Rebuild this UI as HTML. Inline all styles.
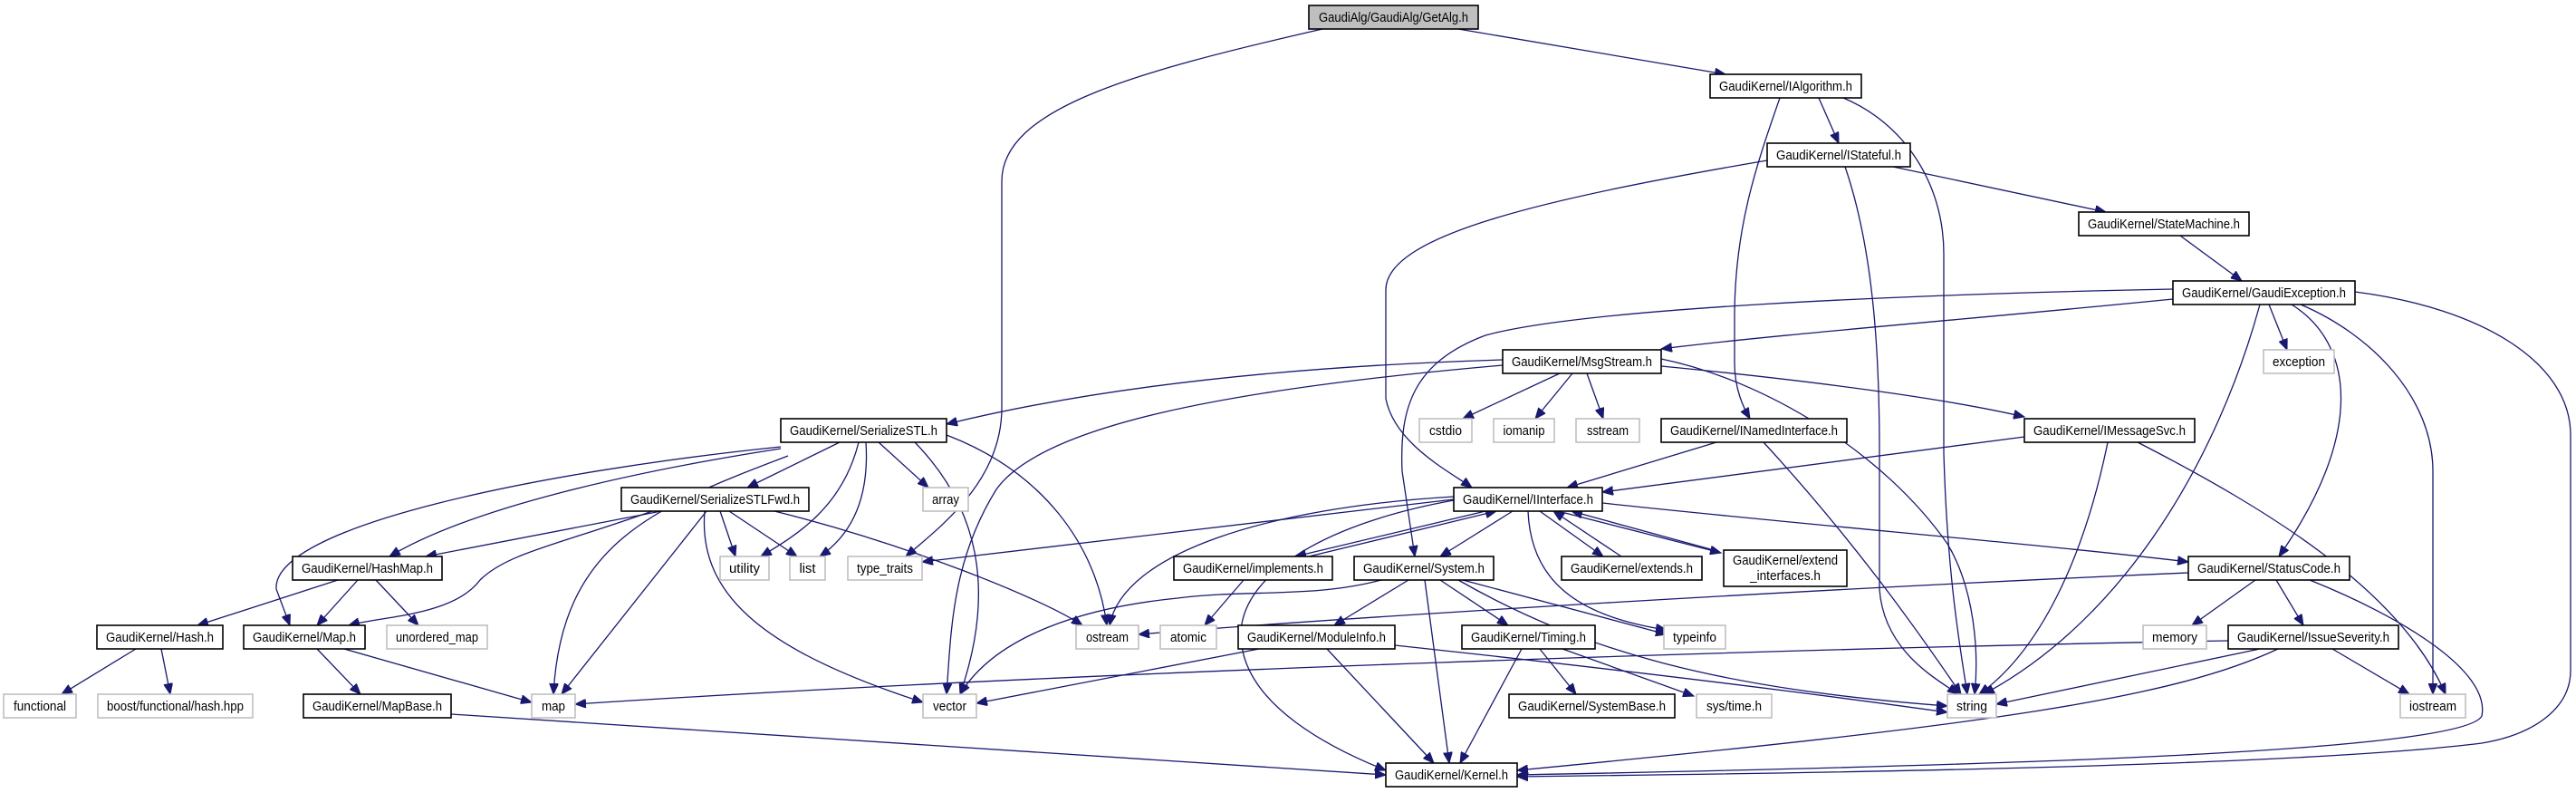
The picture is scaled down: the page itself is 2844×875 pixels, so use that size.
<!DOCTYPE html>
<html><head><meta charset="utf-8"><style>
html,body{margin:0;padding:0;background:#fff;}
svg{display:block;}
text{font-family:"Liberation Sans",sans-serif;font-size:15px;fill:#000;}
.e{fill:none;stroke:#191970;stroke-width:1.3;marker-end:url(#a);}
.n{fill:#fff;stroke:#000;stroke-width:1.6;}
.g{fill:#fff;stroke:#bfbfbf;stroke-width:1.6;}
</style></head><body>
<svg width="2844" height="875" viewBox="0 0 2844 875" xmlns="http://www.w3.org/2000/svg">
<defs><marker id="a" markerUnits="userSpaceOnUse" markerWidth="14" markerHeight="10" refX="12" refY="5" orient="auto"><path d="M0,0 L12,5 L0,10 z" fill="#191970" stroke="#191970"/></marker></defs>
<g>
<path class="e" d="M1610 32 L1905 82"/>
<path class="e" d="M1460 32 C1250 80 1106 120 1106 200 L1106 450 C1106 530 1040 580 1000 614"/>
<path class="e" d="M2008 108 L2030 158"/>
<path class="e" d="M1965 108 C1940 180 1915 250 1915 350 L1915 400 C1915 430 1925 450 1932 462"/>
<path class="e" d="M2035 108 C2100 135 2146 200 2146 280 L2146 500 C2150 640 2165 720 2172 766"/>
<path class="e" d="M1951 177 C1700 220 1530 260 1530 320 L1530 440 C1540 490 1600 520 1625 538"/>
<path class="e" d="M2037 184 C2070 280 2075 400 2075 500 L2075 650 C2080 720 2140 750 2162 766"/>
<path class="e" d="M2090 184 L2325 234"/>
<path class="e" d="M2407 260 L2475 310"/>
<path class="e" d="M2399 330 C2200 350 1950 370 1834 385"/>
<path class="e" d="M2399 319 C2100 325 1750 340 1640 370 C1560 400 1545 450 1548 520 L1562 614"/>
<path class="e" d="M2505 336 L2525 386"/>
<path class="e" d="M2495 336 C2450 500 2350 680 2190 766"/>
<path class="e" d="M2530 336 C2600 380 2610 480 2516 614"/>
<path class="e" d="M2540 336 C2620 370 2686 440 2686 520 L2686 766"/>
<path class="e" d="M2600 322 C2740 340 2838 400 2838 480 L2838 740 C2838 780 2800 810 2740 820 C2500 850 1800 855 1675 857"/>
<path class="e" d="M1659 397 C1400 405 1200 430 1045 468"/>
<path class="e" d="M1722 412 L1615 462"/>
<path class="e" d="M1736 412 L1695 462"/>
<path class="e" d="M1752 412 L1770 462"/>
<path class="e" d="M1834 404 C2000 420 2150 440 2235 460"/>
<path class="e" d="M1834 396 C1950 420 2080 500 2150 600 C2180 650 2185 720 2180 766"/>
<path class="e" d="M1659 403 C1350 430 1150 470 1100 540 C1050 620 1050 700 1045 766"/>
<path class="e" d="M927 488 L825 538"/>
<path class="e" d="M862 495 C700 520 520 560 430 614"/>
<path class="e" d="M862 493 C600 520 300 580 305 650 L320 690"/>
<path class="e" d="M870 503 C720 560 620 600 611 766"/>
<path class="e" d="M948 488 C930 560 880 590 840 614"/>
<path class="e" d="M956 488 C960 550 940 590 905 614"/>
<path class="e" d="M970 488 L1025 538"/>
<path class="e" d="M1045 480 C1150 520 1210 600 1222 690"/>
<path class="e" d="M1010 488 C1080 560 1100 650 1060 766"/>
<path class="e" d="M730 564 L470 614"/>
<path class="e" d="M720 564 C620 600 560 610 530 640 C500 680 420 680 385 690"/>
<path class="e" d="M780 564 L620 766"/>
<path class="e" d="M795 564 L812 614"/>
<path class="e" d="M805 564 L880 614"/>
<path class="e" d="M778 564 C770 660 850 720 1019 775"/>
<path class="e" d="M855 564 C1000 600 1150 660 1195 690"/>
<path class="e" d="M1640 564 L1430 614"/>
<path class="e" d="M1445 614 L1652 564"/>
<path class="e" d="M1670 564 L1590 614"/>
<path class="e" d="M1700 564 L1770 614"/>
<path class="e" d="M1790 614 L1715 564"/>
<path class="e" d="M1720 564 L1900 610"/>
<path class="e" d="M1892 607 L1735 564"/>
<path class="e" d="M1769 555 C2000 580 2250 600 2416 620"/>
<path class="e" d="M1605 551 L1018 620"/>
<path class="e" d="M1605 548 C1400 560 1240 610 1225 690"/>
<path class="e" d="M1605 552 C1450 580 1370 640 1370 700 C1370 780 1480 830 1530 850"/>
<path class="e" d="M1687 564 C1690 640 1740 680 1840 695"/>
<path class="e" d="M1373 640 L1330 690"/>
<path class="e" d="M1525 640 C1450 660 1380 650 1300 660 C1200 670 1100 700 1060 766"/>
<path class="e" d="M1555 640 L1473 690"/>
<path class="e" d="M1590 640 L1665 690"/>
<path class="e" d="M1573 640 L1600 842"/>
<path class="e" d="M1615 640 L1840 700"/>
<path class="e" d="M1610 640 C1750 720 1900 760 2150 779"/>
<path class="e" d="M2416 632 C2000 650 1500 680 1257 700"/>
<path class="e" d="M2490 640 L2420 690"/>
<path class="e" d="M2513 640 L2543 690"/>
<path class="e" d="M2550 640 C2650 680 2750 740 2740 790 C2720 830 2200 845 1675 855"/>
<path class="e" d="M2460 707 C2000 715 1200 740 635 777"/>
<path class="e" d="M2495 716 L2204 777"/>
<path class="e" d="M2515 716 C2400 770 2200 800 1675 850"/>
<path class="e" d="M2575 716 L2660 766"/>
<path class="e" d="M150 716 L68 766"/>
<path class="e" d="M178 716 L188 766"/>
<path class="e" d="M373 640 L218 690"/>
<path class="e" d="M395 640 L350 690"/>
<path class="e" d="M415 640 L462 690"/>
<path class="e" d="M350 716 L398 766"/>
<path class="e" d="M380 716 L587 775"/>
<path class="e" d="M498 788 L1530 855"/>
<path class="e" d="M1390 716 L1078 776"/>
<path class="e" d="M1465 716 L1583 842"/>
<path class="e" d="M1540 712 C1800 740 2000 765 2150 786"/>
<path class="e" d="M1700 716 L1740 766"/>
<path class="e" d="M1725 716 L1870 768"/>
<path class="e" d="M1680 716 L1612 842"/>
<path class="e" d="M1895 488 L1730 538"/>
<path class="e" d="M1947 488 C2050 600 2120 700 2165 766"/>
<path class="e" d="M2235 482 L1769 543"/>
<path class="e" d="M2327 488 C2300 620 2250 720 2185 766"/>
<path class="e" d="M2360 488 C2500 560 2650 650 2700 766"/>
</g>
<g text-anchor="middle">
<rect x="1445" y="6" width="187" height="26" fill="#bfbfbf" stroke="#000" stroke-width="1.6"/><text x="1538.5" y="24" textLength="165" lengthAdjust="spacingAndGlyphs">GaudiAlg/GaudiAlg/GetAlg.h</text>
<rect class="n" x="1888" y="82" width="167" height="26"/><text x="1971.5" y="100" textLength="147" lengthAdjust="spacingAndGlyphs">GaudiKernel/IAlgorithm.h</text>
<rect class="n" x="1951" y="158" width="158" height="26"/><text x="2030" y="176" textLength="138" lengthAdjust="spacingAndGlyphs">GaudiKernel/IStateful.h</text>
<rect class="n" x="2295" y="234" width="188" height="26"/><text x="2389" y="252" textLength="168" lengthAdjust="spacingAndGlyphs">GaudiKernel/StateMachine.h</text>
<rect class="n" x="2399" y="310" width="201" height="26"/><text x="2499.5" y="328" textLength="181" lengthAdjust="spacingAndGlyphs">GaudiKernel/GaudiException.h</text>
<rect class="n" x="1659" y="386" width="175" height="26"/><text x="1746.5" y="404" textLength="155" lengthAdjust="spacingAndGlyphs">GaudiKernel/MsgStream.h</text>
<rect class="g" x="2499" y="386" width="78" height="26"/><text x="2538" y="404" textLength="58" lengthAdjust="spacingAndGlyphs">exception</text>
<rect class="n" x="862" y="462" width="183" height="26"/><text x="953.5" y="480" textLength="163" lengthAdjust="spacingAndGlyphs">GaudiKernel/SerializeSTL.h</text>
<rect class="g" x="1567" y="462" width="58" height="26"/><text x="1596" y="480" textLength="36" lengthAdjust="spacingAndGlyphs">cstdio</text>
<rect class="g" x="1649" y="462" width="67" height="26"/><text x="1682.5" y="480" textLength="46" lengthAdjust="spacingAndGlyphs">iomanip</text>
<rect class="g" x="1740" y="462" width="70" height="26"/><text x="1775" y="480" textLength="46" lengthAdjust="spacingAndGlyphs">sstream</text>
<rect class="n" x="1834" y="462" width="205" height="26"/><text x="1936.5" y="480" textLength="185" lengthAdjust="spacingAndGlyphs">GaudiKernel/INamedInterface.h</text>
<rect class="n" x="2235" y="462" width="188" height="26"/><text x="2329" y="480" textLength="168" lengthAdjust="spacingAndGlyphs">GaudiKernel/IMessageSvc.h</text>
<rect class="n" x="686" y="538" width="207" height="26"/><text x="789.5" y="556" textLength="187" lengthAdjust="spacingAndGlyphs">GaudiKernel/SerializeSTLFwd.h</text>
<rect class="g" x="1019" y="538" width="50" height="26"/><text x="1044" y="556" textLength="30" lengthAdjust="spacingAndGlyphs">array</text>
<rect class="n" x="1605" y="538" width="164" height="26"/><text x="1687" y="556" textLength="144" lengthAdjust="spacingAndGlyphs">GaudiKernel/IInterface.h</text>
<rect class="n" x="323" y="614" width="165" height="26"/><text x="405.5" y="632" textLength="145" lengthAdjust="spacingAndGlyphs">GaudiKernel/HashMap.h</text>
<rect class="g" x="795" y="614" width="54" height="26"/><text x="822" y="632" textLength="34" lengthAdjust="spacingAndGlyphs">utility</text>
<rect class="g" x="872" y="614" width="39" height="26"/><text x="891.5" y="632" textLength="18" lengthAdjust="spacingAndGlyphs">list</text>
<rect class="g" x="936" y="614" width="82" height="26"/><text x="977" y="632" textLength="62" lengthAdjust="spacingAndGlyphs">type_traits</text>
<rect class="n" x="1296" y="614" width="175" height="26"/><text x="1383.5" y="632" textLength="155" lengthAdjust="spacingAndGlyphs">GaudiKernel/implements.h</text>
<rect class="n" x="1495" y="614" width="154" height="26"/><text x="1572" y="632" textLength="134" lengthAdjust="spacingAndGlyphs">GaudiKernel/System.h</text>
<rect class="n" x="1724" y="614" width="155" height="26"/><text x="1801.5" y="632" textLength="135" lengthAdjust="spacingAndGlyphs">GaudiKernel/extends.h</text>
<rect class="n" x="1903" y="607" width="136" height="40"/><text x="1971" y="623" textLength="116" lengthAdjust="spacingAndGlyphs">GaudiKernel/extend</text><text x="1971" y="640" textLength="78" lengthAdjust="spacingAndGlyphs">_interfaces.h</text>
<rect class="n" x="2416" y="614" width="178" height="26"/><text x="2505" y="632" textLength="158" lengthAdjust="spacingAndGlyphs">GaudiKernel/StatusCode.h</text>
<rect class="n" x="107" y="690" width="139" height="26"/><text x="176.5" y="708" textLength="119" lengthAdjust="spacingAndGlyphs">GaudiKernel/Hash.h</text>
<rect class="n" x="269" y="690" width="134" height="26"/><text x="336" y="708" textLength="114" lengthAdjust="spacingAndGlyphs">GaudiKernel/Map.h</text>
<rect class="g" x="427" y="690" width="111" height="26"/><text x="482.5" y="708" textLength="91" lengthAdjust="spacingAndGlyphs">unordered_map</text>
<rect class="g" x="1188" y="690" width="69" height="26"/><text x="1222.5" y="708" textLength="47" lengthAdjust="spacingAndGlyphs">ostream</text>
<rect class="g" x="1281" y="690" width="62" height="26"/><text x="1312" y="708" textLength="40" lengthAdjust="spacingAndGlyphs">atomic</text>
<rect class="n" x="1367" y="690" width="173" height="26"/><text x="1453.5" y="708" textLength="153" lengthAdjust="spacingAndGlyphs">GaudiKernel/ModuleInfo.h</text>
<rect class="n" x="1614" y="690" width="147" height="26"/><text x="1687.5" y="708" textLength="127" lengthAdjust="spacingAndGlyphs">GaudiKernel/Timing.h</text>
<rect class="g" x="1837" y="690" width="68" height="26"/><text x="1871" y="708" textLength="48" lengthAdjust="spacingAndGlyphs">typeinfo</text>
<rect class="g" x="2366" y="690" width="70" height="26"/><text x="2401" y="708" textLength="50" lengthAdjust="spacingAndGlyphs">memory</text>
<rect class="n" x="2460" y="690" width="188" height="26"/><text x="2554" y="708" textLength="168" lengthAdjust="spacingAndGlyphs">GaudiKernel/IssueSeverity.h</text>
<rect class="g" x="4" y="766" width="80" height="26"/><text x="44" y="784" textLength="58" lengthAdjust="spacingAndGlyphs">functional</text>
<rect class="g" x="108" y="766" width="171" height="26"/><text x="193.5" y="784" textLength="151" lengthAdjust="spacingAndGlyphs">boost/functional/hash.hpp</text>
<rect class="n" x="335" y="766" width="163" height="26"/><text x="416.5" y="784" textLength="143" lengthAdjust="spacingAndGlyphs">GaudiKernel/MapBase.h</text>
<rect class="g" x="587" y="766" width="48" height="26"/><text x="611" y="784" textLength="26" lengthAdjust="spacingAndGlyphs">map</text>
<rect class="g" x="1019" y="766" width="59" height="26"/><text x="1048.5" y="784" textLength="37" lengthAdjust="spacingAndGlyphs">vector</text>
<rect class="n" x="1666" y="766" width="183" height="26"/><text x="1757.5" y="784" textLength="163" lengthAdjust="spacingAndGlyphs">GaudiKernel/SystemBase.h</text>
<rect class="g" x="1873" y="766" width="83" height="26"/><text x="1914.5" y="784" textLength="61" lengthAdjust="spacingAndGlyphs">sys/time.h</text>
<rect class="g" x="2150" y="766" width="54" height="26"/><text x="2177" y="784" textLength="34" lengthAdjust="spacingAndGlyphs">string</text>
<rect class="g" x="2650" y="766" width="72" height="26"/><text x="2686" y="784" textLength="52" lengthAdjust="spacingAndGlyphs">iostream</text>
<rect class="n" x="1530" y="842" width="145" height="26"/><text x="1602.5" y="860" textLength="125" lengthAdjust="spacingAndGlyphs">GaudiKernel/Kernel.h</text>
</g>
</svg>
</body></html>
